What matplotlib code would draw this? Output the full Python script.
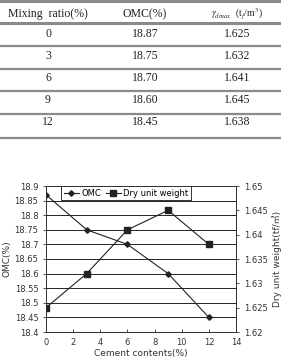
import matplotlib.pyplot as plt
from matplotlib.lines import Line2D

plt.rcParams["mathtext.fontset"] = "stix"

# table / chart data
ratios = [0, 3, 6, 9, 12]
omc = [18.87, 18.75, 18.70, 18.60, 18.45]
gamma = [1.625, 1.632, 1.641, 1.645, 1.638]
headers = ["Mixing  ratio(%)", "OMC(%)", r"$\gamma_{dmax}$  (t$_f$/m$^3$)"]

W, H = 281, 361
fig = plt.figure(figsize=(W / 100, H / 100), dpi=100)


def fx(px):
    return px / W


def fy(py):
    return 1 - py / H


# ---- table ----
col_x = [48, 145, 237]
head_y = 14
row_y = [34, 56, 78, 100, 122]
line_y = [1, 23, 46, 69, 91, 114, 138]
serif = ["Liberation Serif", "DejaVu Serif"]

for ly in line_y:
    lw = 2.2 if ly in (1, 23) else 1.6
    fig.add_artist(Line2D([0, 1], [fy(ly), fy(ly)], color="#8a8a8a", lw=lw,
                          transform=fig.transFigure))

for cx, h in zip(col_x, headers):
    fs = 7 if h.startswith("$") else 8.5
    fig.text(fx(cx), fy(head_y), h, ha="center", va="center",
             fontsize=fs, family=serif, color="#222222")

for i, ry in enumerate(row_y):
    vals = [str(ratios[i]), f"{omc[i]:.2f}", f"{gamma[i]:.3f}"]
    for cx, v in zip(col_x, vals):
        fig.text(fx(cx), fy(ry), v, ha="center", va="center",
                 fontsize=8.5, family=serif, color="#222222")

# ---- chart ----
ax = fig.add_axes([fx(46), fy(332), fx(236) - fx(46), fy(186) - fy(332)])
ax2 = ax.twinx()

ax.set_xlim(0, 14)
ax.set_ylim(18.4, 18.9)
ax2.set_ylim(1.62, 1.65)
ax.set_xticks(range(0, 15, 2))
ax.set_yticks([18.4 + 0.05 * i for i in range(11)])
ax.set_yticklabels([f"{18.4 + 0.05 * i:.2f}".rstrip("0").rstrip(".") for i in range(11)])
ax2.set_yticks([1.62 + 0.005 * i for i in range(7)])
ax2.set_yticklabels([f"{1.62 + 0.005 * i:.3f}".rstrip("0").rstrip(".") for i in range(7)])

ax.yaxis.grid(True, color="black", lw=0.6)
ax.set_axisbelow(True)

l1, = ax.plot(ratios, omc, color="#222222", lw=0.8, marker="D", ms=2.8,
              label="OMC")
l2, = ax2.plot(ratios, gamma, color="#222222", lw=0.8, marker="s", ms=4,
               label="Dry unit weight")

for a in (ax, ax2):
    a.tick_params(labelsize=6, colors="#333333", length=2, width=0.6)
    for s in a.spines.values():
        s.set_linewidth(0.7)
        s.set_color("#333333")
ax.tick_params(axis="x", direction="in", pad=4)

ax.set_xlabel("Cement contents(%)", fontsize=6.5, color="#333333", labelpad=2)
ax.set_ylabel("OMC(%)", fontsize=6.5, color="#333333", labelpad=2)
ax2.set_ylabel("Dry unit weight(tf/㎥)", fontsize=6.5, color="#333333",
               labelpad=3, family=["DejaVu Sans", "Noto Sans CJK KR"])

leg = ax.legend(handles=[l1, l2], loc="upper left", bbox_to_anchor=(0.08, 1.0),
                borderaxespad=0, ncol=2, fontsize=6, frameon=True,
                fancybox=False, edgecolor="black", handlelength=1.8,
                columnspacing=0.6, handletextpad=0.3, borderpad=0.3)
leg.get_frame().set_linewidth(0.7)
leg.set_zorder(5)

fig.savefig("out.png", dpi=100)
